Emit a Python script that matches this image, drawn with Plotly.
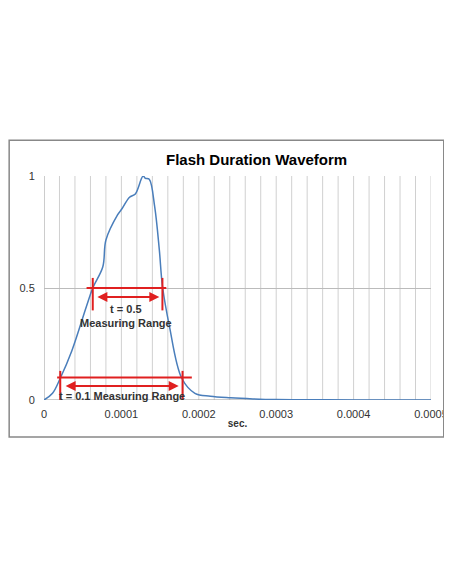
import plotly.graph_objects as go

# waveform
t_sec = [0, 1.1e-5, 2.1e-5, 3.6e-5, 5.5e-5, 6.3e-5, 7.6e-5, 8.0e-5, 9.5e-5, 1.01e-4,
         1.105e-4, 1.18e-4, 1.28e-4, 1.31e-4, 1.36e-4, 1.43e-4, 1.49e-4, 1.53e-4,
         1.62e-4, 1.78e-4, 1.95e-4, 2.15e-4, 2.41e-4, 2.7e-4, 3.0e-4, 3.5e-4, 4.0e-4, 5.0e-4]
level = [0, 0.03, 0.097, 0.22, 0.42, 0.5, 0.595, 0.714, 0.826, 0.855,
         0.905, 0.92, 1.0, 0.99, 0.985, 0.863, 0.67, 0.51,
         0.33, 0.097, 0.03, 0.017, 0.01, 0.005, 0.002, 0.001, 0.0, 0.0]

RED = "#e02020"

fig = go.Figure()
fig.add_scatter(x=t_sec, y=level, mode="lines", line=dict(color="#4a7ebb", width=1.5),
                line_shape="spline", hoverinfo="skip")

def seg(x0, y0, x1, y1):
    fig.add_shape(type="line", x0=x0, y0=y0, x1=x1, y1=y1, line=dict(color=RED, width=2))

def arrow(x0, x1, y):
    fig.add_annotation(x=x1, y=y, ax=x0, ay=y, axref="x", ayref="y", text="",
                       showarrow=True, arrowhead=2, startarrowhead=2, arrowside="end+start",
                       arrowsize=1, arrowwidth=2, arrowcolor=RED)

# t = 0.5 range
seg(5.5e-5, 0.5, 1.58e-4, 0.5)
seg(6.3e-5, 0.545, 6.3e-5, 0.40)
seg(1.53e-4, 0.545, 1.53e-4, 0.40)
arrow(6.7e-5, 1.49e-4, 0.46)
fig.add_annotation(x=1.06e-4, y=0.375, text="<b>t = 0.5<br>Measuring Range</b>", showarrow=False,
                   font=dict(size=11, color="#333333"))

# t = 0.1 range
seg(1.7e-5, 0.1, 1.91e-4, 0.1)
seg(2.1e-5, 0.13, 2.1e-5, -0.013)
seg(1.79e-4, 0.13, 1.79e-4, -0.013)
arrow(2.6e-5, 1.74e-4, 0.062)
fig.add_annotation(x=1.01e-4, y=0.02, text="<b>t = 0.1 Measuring Range</b>", showarrow=False,
                   font=dict(size=11, color="#333333"))

# chart border
fig.add_shape(type="rect", xref="paper", yref="paper", x0=-0.09, x1=1.033, y0=-0.165, y1=1.16,
              line=dict(color="#888888", width=1.5))

fig.update_layout(
    width=452, height=584, showlegend=False,
    margin=dict(l=30, r=23, t=168, b=192),
    paper_bgcolor="white", plot_bgcolor="white",
    font=dict(family="Liberation Sans, Arial", size=11, color="#333333"),
    title=dict(text="<b>Flash Duration Waveform</b>", x=0.55, xanchor="center",
               y=1 - 152 / 584, yanchor="middle", font=dict(size=15, color="black")),
    xaxis=dict(range=[0, 0.0005], tickvals=[0, 0.0001, 0.0002, 0.0003, 0.0004, 0.0005],
               ticktext=["0", "0.0001", "0.0002", "0.0003", "0.0004", "0.0005"],
               showgrid=False, zeroline=False, showline=False, ticks="outside",
               ticklen=4, tickcolor="white", tickfont=dict(size=11),
               title=dict(text="<b>sec.</b>", standoff=0, font=dict(size=10))),
    yaxis=dict(range=[0, 1], tickvals=[0, 0.5, 1], ticktext=["0", "0.5", "1"],
               gridcolor="#bbbbbb", zeroline=False, showline=False, ticks="outside",
               ticklen=6, tickcolor="white"),
)
# vertical minor grid every 0.00002
for i in range(1, 26):
    fig.add_vline(x=i * 2e-5, line=dict(color="#d0d0d0", width=1), layer="below")
fig.add_hline(y=0, line=dict(color="#999999", width=1), layer="below")
fig.add_vline(x=0, line=dict(color="#999999", width=1), layer="below")

fig.write_html("out.html")
